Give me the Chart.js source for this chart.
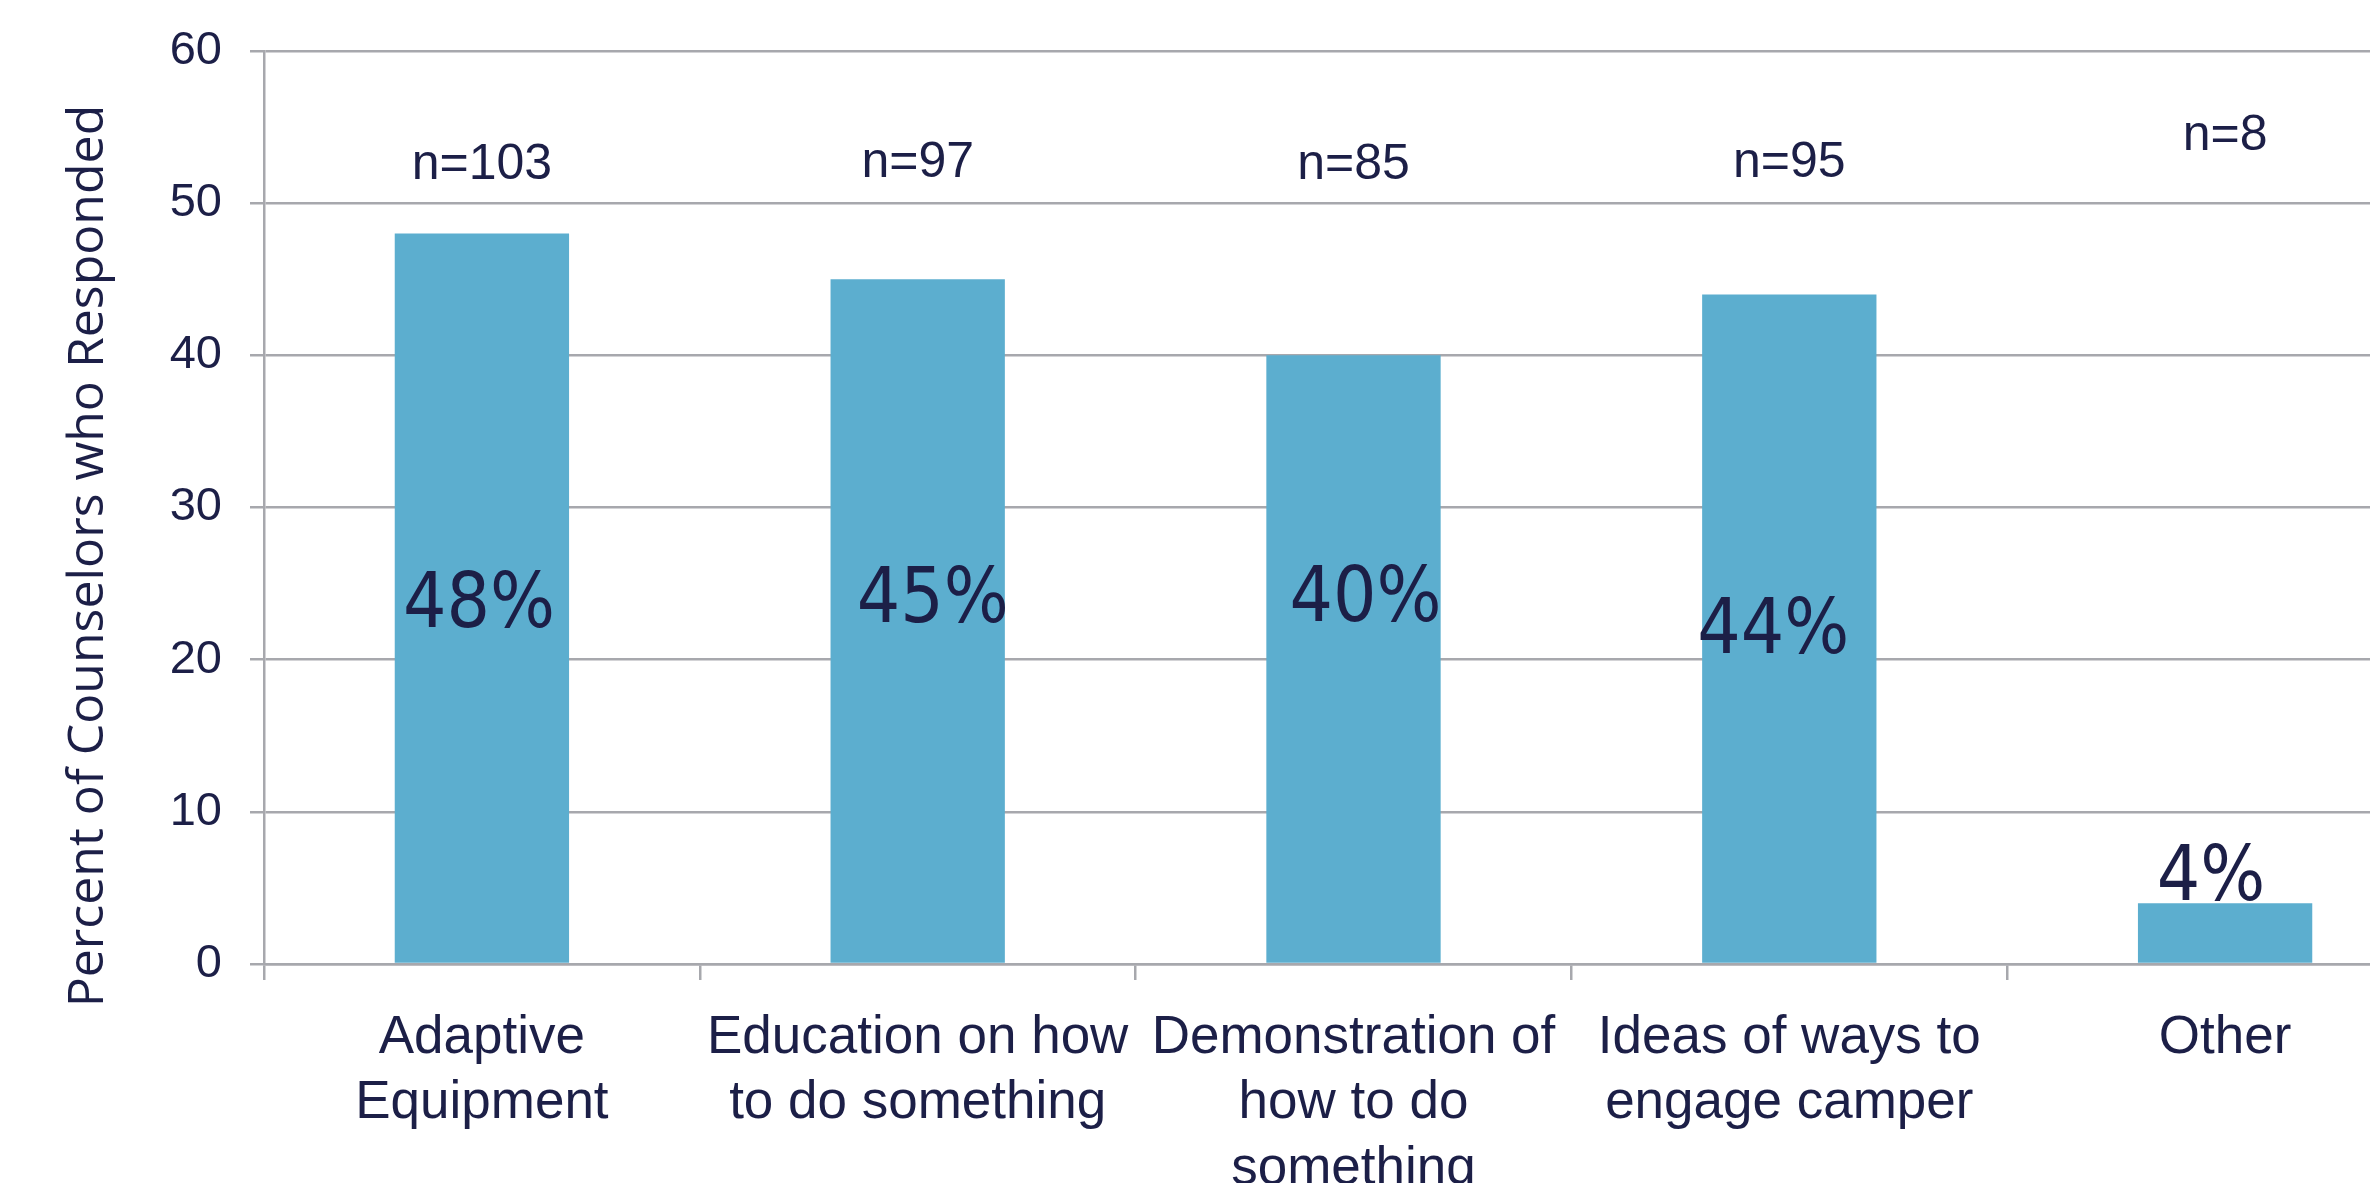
<!DOCTYPE html>
<html>
<head>
<meta charset="utf-8">
<script src="https://cdn.jsdelivr.net/npm/chart.js@4.4.1/dist/chart.umd.min.js"></script>
<style>
  html, body { margin: 0; padding: 0; background: #fff; overflow: hidden; }
  #wrap { width: 2370px; height: 1183px; overflow: hidden; position: relative; }
  #chart { position: absolute; left: 0; top: 0; }
</style>
</head>
<body>
<div id="wrap"><canvas id="chart" width="2460" height="1183"></canvas></div>
<script>
// values
const categories = [
    ['Adaptive', 'Equipment'],
    ['Education on how', 'to do something'],
    ['Demonstration of', 'how to do', 'something'],
    ['Ideas of ways to', 'engage camper'],
    ['Other']
];
const percents = [48, 45, 40, 44, 4];
const respondents = [103, 97, 85, 95, 8];
const yMin = 0;
const yMax = 60;
const yStep = 10;
const yTitle = 'Percent of Counselors who Responded';

(function () {
    const navy = '#1c1f47';
    const gridColor = '#a7a8ad';
    const barColor = '#5caecf';

    // use a narrow face for the big percent labels when one is installed
    const probe = document.createElement('canvas').getContext('2d');
    const installed = (family) => {
        probe.font = `100px "${family}", monospace`;
        const a = probe.measureText('48%').width;
        probe.font = '100px monospace';
        return Math.abs(a - probe.measureText('48%').width) > 1;
    };
    const narrow = ['Liberation Sans Narrow', 'Arial Narrow', 'DejaVu Sans Condensed'].find(installed);
    const pctFont = narrow === 'DejaVu Sans Condensed' ? '76px "DejaVu Sans Condensed"'
        : narrow ? `85px "${narrow}"` : '72px "Liberation Sans"';

    const barLabels = {
        id: 'barLabels',
        afterDatasetsDraw(chart, args, opts) {
            const { ctx, chartArea, scales: { y } } = chart;
            const meta = chart.getDatasetMeta(0);
            ctx.save();
            ctx.fillStyle = navy;
            ctx.textAlign = 'center';
            ctx.textBaseline = 'middle';
            meta.data.forEach((bar, i) => {
                ctx.font = '50px "Liberation Sans"';
                ctx.fillText(`n=${respondents[i]}`, bar.x, y.getPixelForValue(opts.nAt[i]));
                ctx.font = pctFont;
                ctx.fillText(`${percents[i]}%`, bar.x + opts.pctShift[i], y.getPixelForValue(opts.pctAt[i]));
            });
            // axis title sits a bit lower than the plot centre in the original
            ctx.translate(89, chartArea.bottom - 408);
            ctx.rotate(-Math.PI / 2);
            ctx.font = '50px "Open Sans"';
            ctx.fillText(yTitle, 0, 0);
            ctx.restore();
        }
    };

    new Chart(document.getElementById('chart'), {
        type: 'bar',
        data: {
            labels: categories,
            datasets: [{
                data: percents,
                backgroundColor: barColor,
                borderWidth: 0,
                categoryPercentage: 1,
                barPercentage: 0.4
            }]
        },
        options: {
            responsive: false,
            animation: false,
            devicePixelRatio: 1,
            layout: { padding: { top: 51, right: 17, left: 0, bottom: 0 } },
            scales: {
                x: {
                    afterFit: (scale) => { scale.height = 219; },
                    grid: { drawOnChartArea: false, drawTicks: true, tickLength: 16, color: gridColor, lineWidth: 2.5 },
                    border: { display: true, color: gridColor, width: 2.5 },
                    ticks: {
                        color: navy,
                        font: { family: 'Liberation Sans', size: 53, lineHeight: 1.23 },
                        padding: 26,
                        maxRotation: 0,
                        autoSkip: false
                    }
                },
                y: {
                    min: yMin,
                    max: yMax,
                    afterFit: (scale) => {
                        scale.width = 264;
                        scale.paddingTop = 0;
                        scale.paddingBottom = 0;
                    },
                    grid: { color: gridColor, lineWidth: 2.5, tickLength: 14 },
                    border: { display: true, color: gridColor, width: 2.5 },
                    ticks: {
                        stepSize: yStep,
                        color: navy,
                        font: { family: 'Liberation Sans', size: 47 },
                        padding: 28
                    }
                }
            },
            plugins: {
                legend: { display: false },
                tooltip: { enabled: false },
                barLabels: {
                    nAt: [52.5, 52.6, 52.5, 52.6, 54.4],
                    pctAt: [23.45, 23.75, 23.85, 21.75, 5.5],
                    pctShift: [-3, 15, 12, -16, -14]
                }
            }
        },
        plugins: [barLabels]
    });
})();
</script>
</body>
</html>
